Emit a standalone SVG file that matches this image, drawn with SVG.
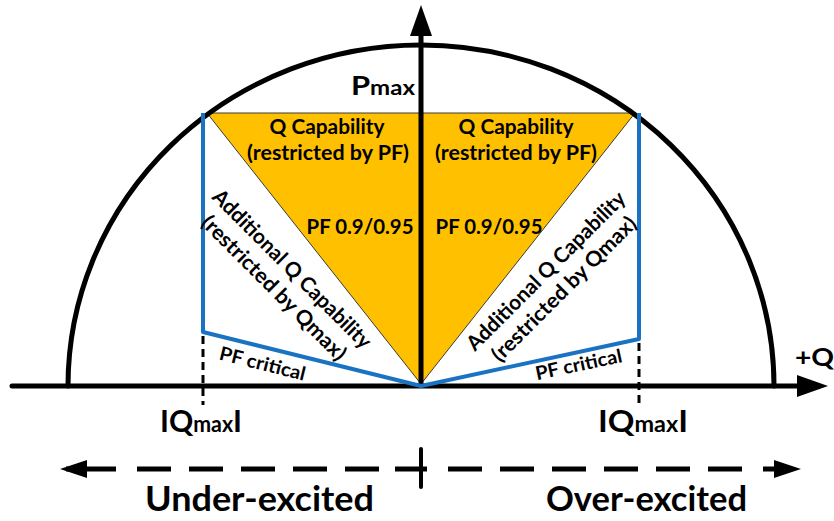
<svg xmlns="http://www.w3.org/2000/svg" width="834" height="521" viewBox="0 0 834 521">
<style>
.t{font-family:Lato,"Liberation Sans",sans-serif;font-weight:bold;fill:#000}
.ax{stroke:#000;stroke-width:5;fill:none;stroke-linecap:round}
.blue{stroke:#1A73C2;stroke-width:4;fill:none;stroke-linejoin:round}
.dot{stroke:#000;stroke-width:3;stroke-dasharray:8 5;fill:none}
.dash{stroke:#000;stroke-width:5;fill:none}
</style>
<rect width="834" height="521" fill="#fff"/>
<g id="capability-triangle">
<polygon points="207,113 635,113 421,384" fill="#FFC000" stroke="#3a3a3a" stroke-width="1"/>
</g>
<g id="circle">
<path d="M 68 386 A 353 341 0 0 1 774 386" class="ax"/>
</g>
<g id="connectors">
<line x1="12" y1="386" x2="800" y2="386" class="ax"/>
<polygon points="828,386 797,375 797,397" fill="#000"/>
<line x1="421" y1="386" x2="421" y2="30" stroke="#000" stroke-width="5"/>
<polygon points="421,5 410,36 432,36" fill="#000"/>
<line x1="203" y1="336" x2="203" y2="405" class="dot"/>
<line x1="639" y1="343" x2="639" y2="405" class="dot"/>
<polyline points="203,113 203,332 421,386 639,339 639,113" class="blue"/>
<line x1="66" y1="469" x2="116" y2="469" class="dash"/>
<polygon points="60,469 87,460 87,478" fill="#000"/>
<path d="M137 469H171M189 469H223M241 469H275M293 469H327M345 469H379M395 469H427M448 469H482M500 469H534M552 469H586M604 469H638M656 469H690M708 469H742M763 469H790" class="dash"/>
<polygon points="801,469 774,460 774,478" fill="#000"/>
<line x1="421" y1="449" x2="421" y2="487" stroke="#000" stroke-width="4" stroke-linecap="round"/>
</g>
<g id="label-pmax"><text class="t" x="351" y="95" font-size="27" textLength="64" lengthAdjust="spacingAndGlyphs">P<tspan font-size="21">max</tspan></text></g>
<g id="label-q"><text class="t" x="795" y="366" font-size="25" textLength="39" lengthAdjust="spacingAndGlyphs">+Q</text></g>
<g id="left-q-cap">
<text class="t" x="327" y="134" font-size="21" text-anchor="middle" textLength="115" lengthAdjust="spacingAndGlyphs">Q Capability</text>
<text class="t" x="328" y="160" font-size="21" text-anchor="middle" textLength="162" lengthAdjust="spacingAndGlyphs">(restricted by PF)</text>
</g>
<g id="right-q-cap">
<text class="t" x="516" y="134" font-size="21" text-anchor="middle" textLength="115" lengthAdjust="spacingAndGlyphs">Q Capability</text>
<text class="t" x="516" y="160" font-size="21" text-anchor="middle" textLength="162" lengthAdjust="spacingAndGlyphs">(restricted by PF)</text>
</g>
<g id="left-pf"><text class="t" x="360" y="234" font-size="21" text-anchor="middle" textLength="107" lengthAdjust="spacingAndGlyphs">PF 0.9/0.95</text></g>
<g id="right-pf"><text class="t" x="489" y="234" font-size="21" text-anchor="middle" textLength="107" lengthAdjust="spacingAndGlyphs">PF 0.9/0.95</text></g>
<g id="left-additional">
<text class="t" font-size="21" text-anchor="middle" transform="translate(287,274) rotate(45)" textLength="215" lengthAdjust="spacingAndGlyphs">Additional Q Capability</text>
<text class="t" font-size="21" text-anchor="middle" transform="translate(269,293) rotate(45)" textLength="195" lengthAdjust="spacingAndGlyphs">(restricted by Qmax)</text>
</g>
<g id="right-additional">
<text class="t" font-size="21" text-anchor="middle" transform="translate(551,276) rotate(-45)" textLength="215" lengthAdjust="spacingAndGlyphs">Additional Q Capability</text>
<text class="t" font-size="21" text-anchor="middle" transform="translate(569,294) rotate(-45)" textLength="195" lengthAdjust="spacingAndGlyphs">(restricted by Qmax)</text>
</g>
<g id="left-pf-critical"><text class="t" font-size="19" text-anchor="middle" transform="translate(261,370) rotate(14)" textLength="88" lengthAdjust="spacingAndGlyphs">PF critical</text></g>
<g id="right-pf-critical"><text class="t" font-size="19" text-anchor="middle" transform="translate(580,371) rotate(-12)" textLength="88" lengthAdjust="spacingAndGlyphs">PF critical</text></g>
<g id="left-qmax"><text class="t" x="160" y="432" font-size="31" textLength="82" lengthAdjust="spacingAndGlyphs">IQ<tspan font-size="22">max</tspan>I</text></g>
<g id="right-qmax"><text class="t" x="598" y="432" font-size="31" textLength="90" lengthAdjust="spacingAndGlyphs">IQ<tspan font-size="22">max</tspan>I</text></g>
<g id="under-excited"><text class="t" x="145" y="511" font-size="34" textLength="229" lengthAdjust="spacingAndGlyphs">Under-excited</text></g>
<g id="over-excited"><text class="t" x="546" y="511" font-size="34" textLength="201" lengthAdjust="spacingAndGlyphs">Over-excited</text></g>
</svg>
